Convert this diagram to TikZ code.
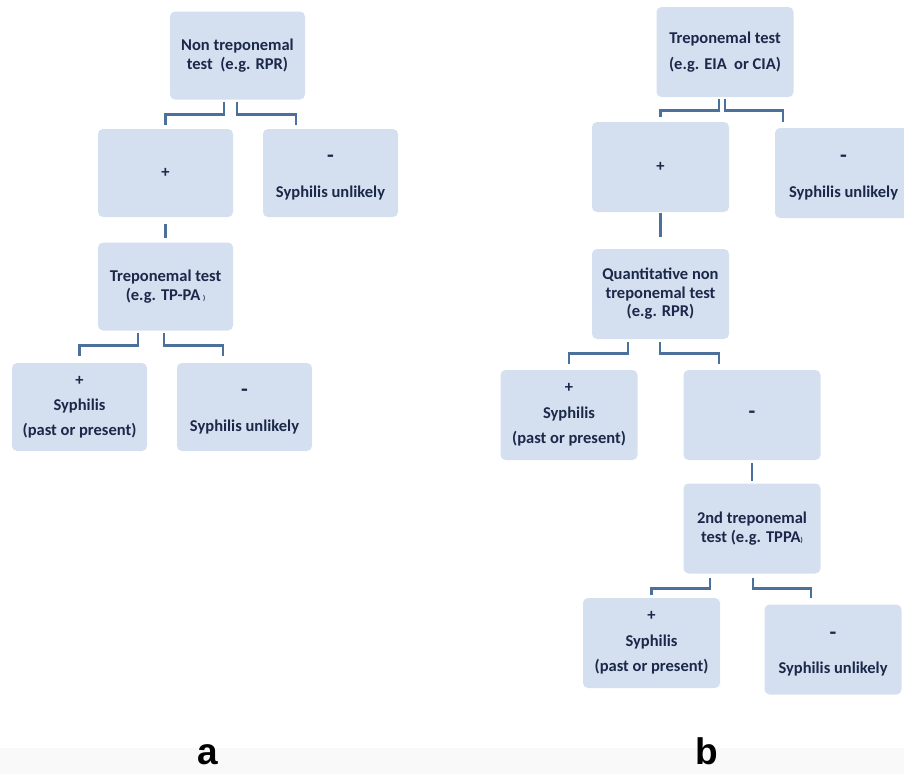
\documentclass[tikz,border=0pt]{standalone}
\usepackage{fontspec}
\setmainfont{Carlito}
\newfontfamily\labfont{Liberation Sans}
\definecolor{boxfill}{RGB}{212,224,239}
\definecolor{txtc}{RGB}{28,40,74}
\definecolor{conc}{RGB}{74,112,155}
\definecolor{band}{RGB}{249,249,249}
\newcommand{\bigdash}{{\fontsize{22}{22}\selectfont -}}
\newcommand{\dashtop}{\rule{0pt}{17pt}\bigdash}
\begin{document}
\begin{tikzpicture}[x=1pt,y=-1pt,
  box/.style={rectangle, rounded corners=5pt, fill=boxfill, minimum width=135pt,
    minimum height=88pt, inner sep=0pt, align=center, text=txtc,
    font=\bfseries\fontsize{16.5}{18.5}\selectfont},
  wide/.style={minimum width=137pt, minimum height=90pt},
  cn/.style={draw=conc, line width=2.6pt},
  lab/.style={font=\labfont\bfseries\fontsize{37}{37}\selectfont, text=black, anchor=base}]
\useasboundingbox (0,0) rectangle (904,774);
\clip (0,0) rectangle (904,774);
\fill[band] (0,748) rectangle (904,774);

% panel a
\node[box] (a1) at (237.5,55.5) {Non treponemal\\test\ \ (e.g. RPR)};
\node[box] (a2) at (165.5,173) {+};
\node[box] (a3) at (330.5,173) {\dashtop\\[16pt]Syphilis unlikely};
\node[box] (a4) at (165.5,286.5) {Treponemal test\\(e.g. TP-PA\,{\scriptsize)}};
\node[box, font=\bfseries\fontsize{16.5}{25}\selectfont] (a5) at (79.5,407) {+\\Syphilis\\(past or present)};
\node[box] (a6) at (244.5,407) {\dashtop\\[17pt]Syphilis unlikely};

\draw[cn] ([xshift=-13.5pt,yshift=-2pt]a1.south) -- ++(0,13) -| ([yshift=4pt]a2.north);
\draw[cn] ([xshift=-0.5pt,yshift=-2pt]a1.south) -- ++(0,13) -| ([xshift=-34.5pt,yshift=4pt]a3.north);
\draw[cn] ([yshift=-7pt]a2.south) -- ([yshift=4pt]a4.north);
\draw[cn] ([xshift=-27.5pt,yshift=-2pt]a4.south) -- ++(0,13) -| ([yshift=7pt]a5.north);
\draw[cn] ([xshift=-1.5pt,yshift=-2pt]a4.south) -- ++(0,13) -| ([xshift=-21.5pt,yshift=7pt]a6.north);

% panel b
\node[box, wide, font=\bfseries\fontsize{16.5}{26}\selectfont] (b1) at (725,52) {Treponemal test\\(e.g. EIA\ \ or CIA)};
\node[box, wide] (b2) at (660.5,167) {+};
\node[box, wide] (b3) at (843.5,173) {\dashtop\\[16pt]Syphilis unlikely};
\node[box, wide] (b4) at (660.5,294) {Quantitative non\\treponemal test\\(e.g. RPR)};
\node[box, wide, font=\bfseries\fontsize{16.5}{25.5}\selectfont] (b5) at (569,415) {+\\Syphilis\\(past or present)};
\node[box, wide] (b6) at (752,415) {\bigdash};
\node[box, wide] (b7) at (752,528.5) {2nd treponemal\\test (e.g. TPPA{\scriptsize)}};
\node[box, wide, font=\bfseries\fontsize{16.5}{25.5}\selectfont] (b8) at (651.5,643) {+\\Syphilis\\(past or present)};
\node[box, wide] (b9) at (833,649.5) {\dashtop\\[16pt]Syphilis unlikely};

\draw[cn] ([xshift=-6pt,yshift=-2pt]b1.south) -- ++(0,11) -| ([yshift=5pt]b2.north);
\draw[cn] ([yshift=-2pt]b1.south) -- ++(0,11) -| ([xshift=-60.5pt,yshift=6pt]b3.north);
\draw[cn] ([yshift=-1pt]b2.south) -- ([yshift=12pt]b4.north);
\draw[cn] ([xshift=-32.5pt,yshift=-3pt]b4.south) -- ++(0,11) -| ([yshift=6pt]b5.north);
\draw[cn] ([xshift=-0.5pt,yshift=-3pt]b4.south) -- ++(0,11) -| ([xshift=-33pt,yshift=6pt]b6.north);
\draw[cn] ([yshift=-3pt]b6.south) -- ([yshift=2pt]b7.north);
\draw[cn] ([xshift=-42pt,yshift=-4pt]b7.south) -- ++(0,11) -| ([yshift=3pt]b8.north);
\draw[cn] ([xshift=1pt,yshift=-4pt]b7.south) -- ++(0,11) -| ([xshift=-22pt,yshift=6pt]b9.north);

% panel labels
\node[lab] (la) at (208,764) {a};
\node[lab] (lb) at (707,764) {b};
\end{tikzpicture}
\end{document}
